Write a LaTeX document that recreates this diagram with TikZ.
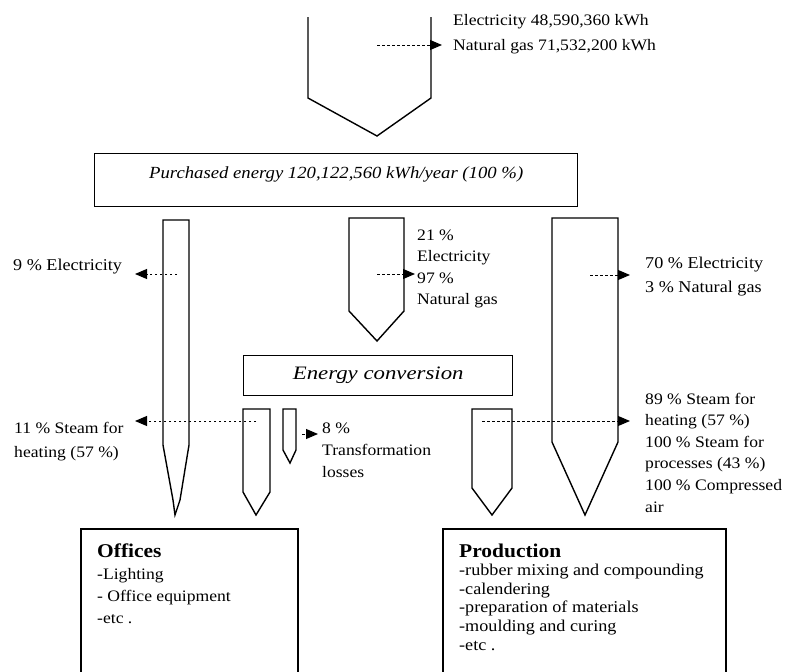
\documentclass[tikz,border=0pt]{standalone}
\usepackage{fontspec}
\setmainfont[FakeStretch=1.1]{Liberation Serif}
\newfontfamily\convfont[FakeStretch=1.2]{Liberation Serif}
\usetikzlibrary{arrows.meta}
\newcommand\heading[1]{{\fontsize{19.5}{22}\selectfont\bfseries #1}}
\begin{document}
\begin{tikzpicture}[x=1pt, y=-1pt,
  pipe/.style={draw, line width=1.4pt, line join=miter},
  box/.style={draw, line width=1.4pt, inner sep=0pt},
  flow/.style={line width=1pt, dash pattern=on 2.5pt off 2.5pt,
    -{Triangle[length=12pt,width=10pt]}},
  lbl/.style={inner sep=0pt, align=left, anchor=base west,
    font=\fontsize{16}{22}\selectfont}]
\useasboundingbox (0,0) rectangle (790,672);
\clip (0,0) rectangle (790,672);

% incoming supply funnel
\draw[pipe] (308,17) -- (308,98) -- (377,136) -- (431,98) -- (431,17);

% purchased energy
\node[box, anchor=north west, minimum width=483pt, text height=25pt, text depth=28pt,
  font=\fontsize{17}{20}\selectfont\itshape] (purchased) at (94,153)
  {Purchased energy 120,122,560 kWh/year (100 \%)};

% branches below the purchased energy
\draw[pipe] (189,445) -- (189,220) -- (163,220) -- (163,445) -- (173,500)
  -- (175,515) -- (180,500) -- cycle;
\draw[pipe] (349,218) -- (404,218) -- (404,311) -- (377,341) -- (349,311) -- cycle;
\draw[pipe] (552,218) -- (618,218) -- (618,442) -- (585,515) -- (552,442) -- cycle;

% energy conversion
\node[box, anchor=north west, minimum width=269pt, text height=24pt, text depth=16pt,
  font=\fontsize{19}{22}\convfont\itshape] (conversion) at (243,355)
  {Energy conversion};

% conversion outputs
\draw[pipe] (243,409) -- (270,409) -- (270,492) -- (256,515) -- (243,492) -- cycle;
\draw[pipe] (283,409) -- (296,409) -- (296,450) -- (290,463) -- (283,450) -- cycle;
\draw[pipe] (472,409) -- (512,409) -- (512,488) -- (492,515) -- (472,488) -- cycle;

% consumers (boxes run on below the page edge)
\draw[line width=1.4pt] (81,680) -- (81,529) -- (298,529) -- (298,680);
\draw[line width=1.4pt] (443,680) -- (443,529) -- (726,529) -- (726,680);
% multi-line labels are placed by the baseline of their last line
\node[lbl] (offices) at (97,623)
  {\heading{Offices}\\-Lighting\\- Office equipment\\-etc .};
\node[lbl, font=\fontsize{16.5}{18.6}\selectfont] (production) at (459,650)
  {\heading{Production}\\-rubber mixing and compounding\\-calendering\\%
   -preparation of materials\\-moulding and curing\\-etc .};

% labels
\node[lbl, font=\fontsize{16}{25}\selectfont] (supply) at (453,50)
  {Electricity 48,590,360 kWh\\Natural gas 71,532,200 kWh};
\node[lbl, font=\fontsize{16.5}{22}\selectfont] (offElec) at (13,270) {9 \% Electricity};
\node[lbl, font=\fontsize{16}{21.5}\selectfont] (convIn) at (417,304.5)
  {21 \%\\Electricity\\97 \%\\Natural gas};
\node[lbl, font=\fontsize{16.5}{24.5}\selectfont] (prodIn) at (645,292.5)
  {70 \% Electricity\\3 \% Natural gas};
\node[lbl, font=\fontsize{16}{24}\selectfont] (offSteam) at (14,457)
  {11 \% Steam for\\heating (57 \%)};
\node[lbl] (losses) at (322,477) {8 \%\\Transformation\\losses};
\node[lbl, font=\fontsize{16}{21.6}\selectfont] (prodSteam) at (645,512)
  {89 \% Steam for\\heating (57 \%)\\100 \% Steam for\\processes (43 \%)\\%
   100 \% Compressed\\air};

% flow arrows
\coordinate (supplyFrom) at (377,45);   \coordinate (supplyTo) at (442,45);
\coordinate (offElecFrom) at (177,274); \coordinate (offElecTo) at (135,274);
\coordinate (convInFrom) at (377,274);  \coordinate (convInTo) at (415,274);
\coordinate (prodInFrom) at (590,275);  \coordinate (prodInTo) at (630,275);
\coordinate (offSteamFrom) at (256,421); \coordinate (offSteamTo) at (135,421);
\coordinate (prodSteamFrom) at (482,421); \coordinate (prodSteamTo) at (630,421);
\coordinate (lossFrom) at (302,434);    \coordinate (lossTo) at (318,434);
\draw[flow] (supplyFrom) -- (supplyTo);
\draw[flow] (offElecFrom) -- (offElecTo);
\draw[flow] (convInFrom) -- (convInTo);
\draw[flow] (prodInFrom) -- (prodInTo);
\draw[flow] (offSteamFrom) -- (offSteamTo);
\draw[flow] (prodSteamFrom) -- (prodSteamTo);
\draw[flow] (lossFrom) -- (lossTo);
\end{tikzpicture}
\end{document}
